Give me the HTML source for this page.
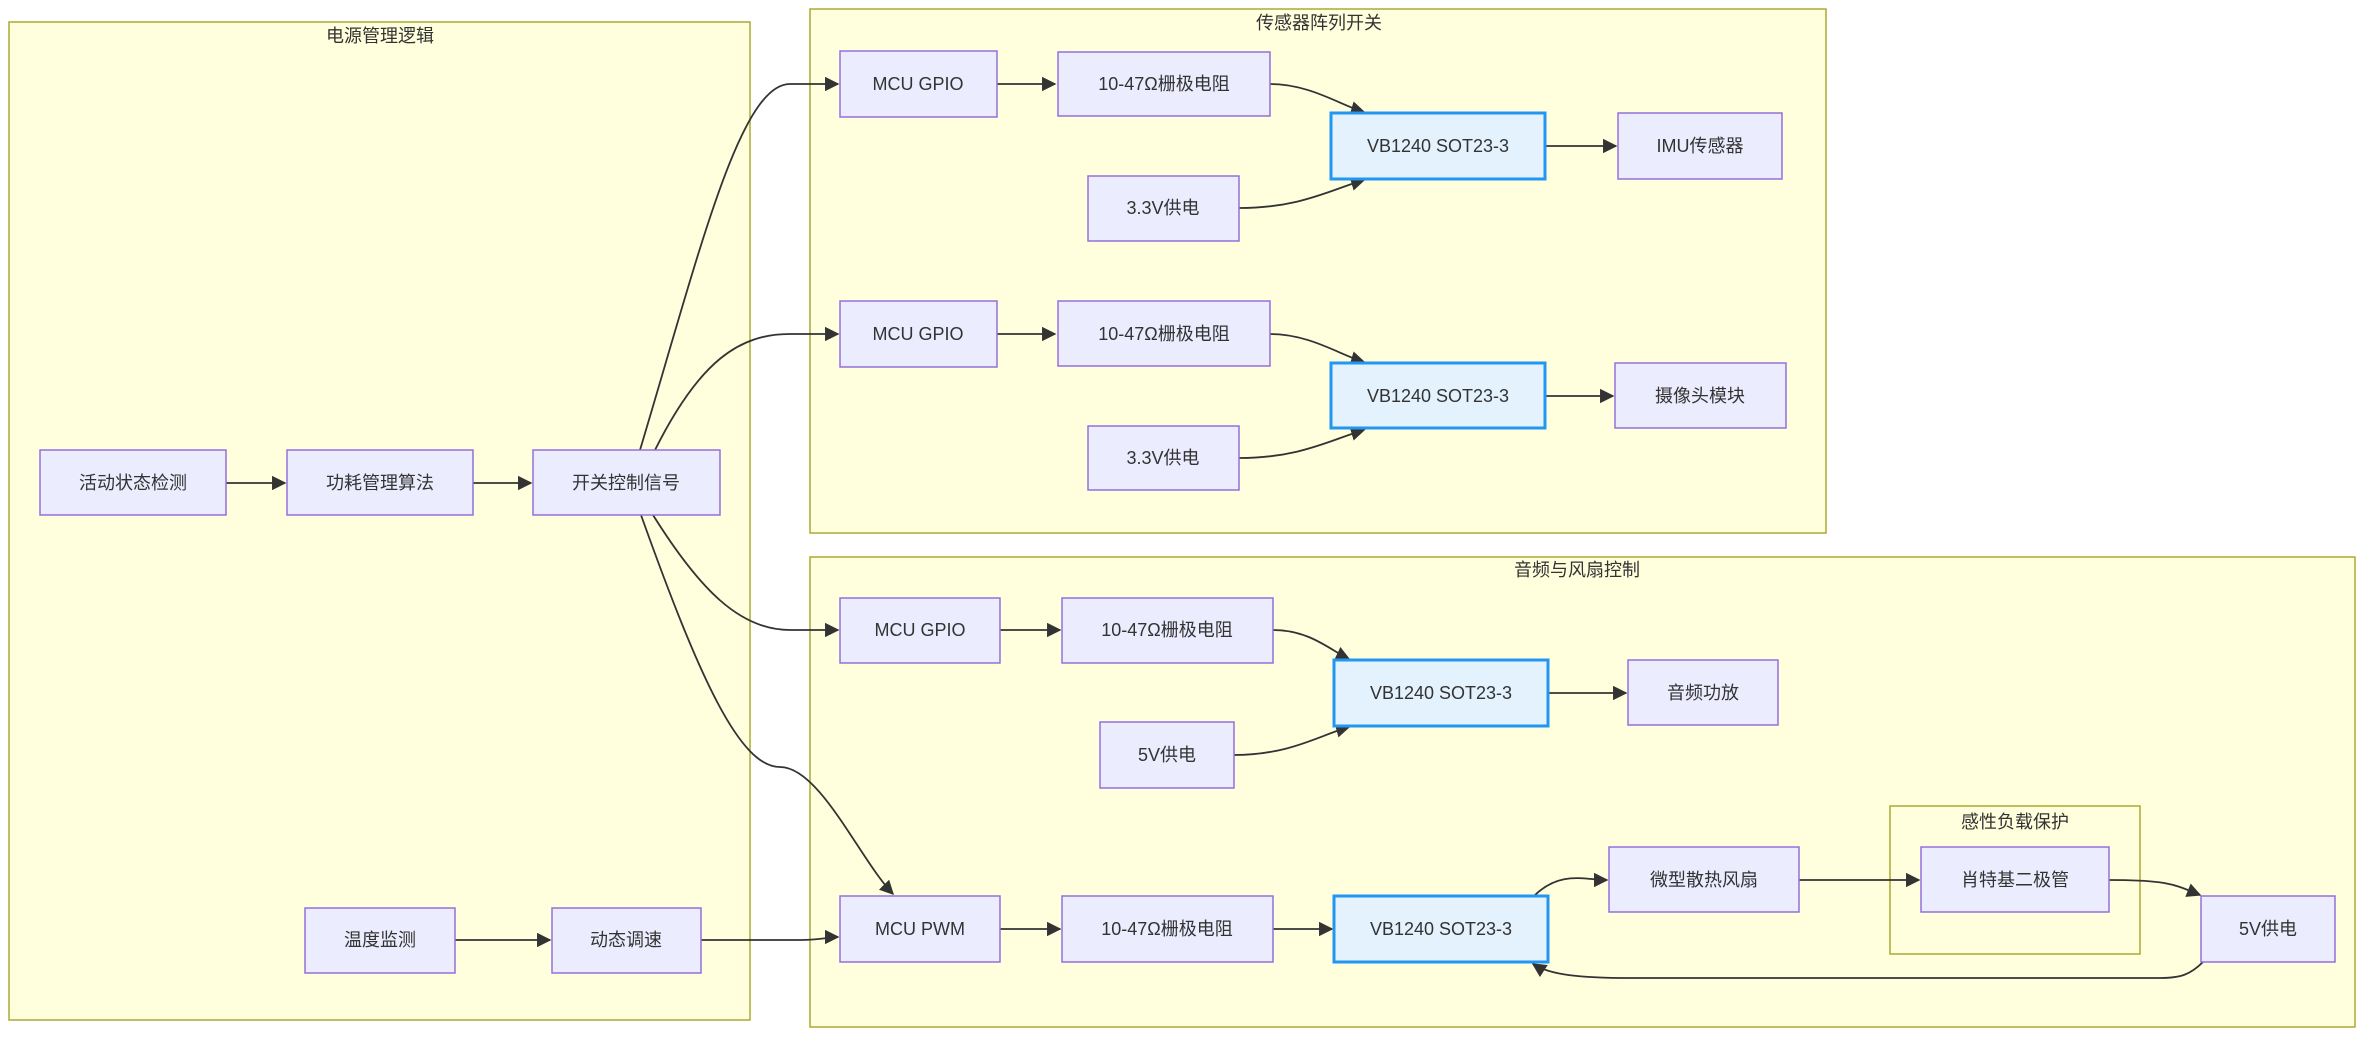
<!DOCTYPE html>
<html><head><meta charset="utf-8"><style>
html,body{margin:0;padding:0;background:#fff;}
svg{display:block;font-family:"Liberation Sans","Noto Sans CJK SC",sans-serif;}
.c{fill:#ffffde;stroke:#aaaa33;stroke-width:1.5;}
.n{fill:#ececff;stroke:#9370db;stroke-width:1.5;}
.v{fill:#e3f2fd;stroke:#2196f3;stroke-width:3;}
.e{fill:none;stroke:#333;stroke-width:1.8;}
text{font-size:18px;fill:#333;text-anchor:middle;dominant-baseline:central;}
</style></head><body>
<svg width="2368" height="1046" viewBox="0 0 2368 1046">
<defs><marker id="a" viewBox="0 0 10 10" refX="9" refY="5" markerWidth="8" markerHeight="8" orient="auto"><path d="M0,0L10,5L0,10z" fill="#333"/></marker></defs>
<rect class="c" x="9" y="22" width="741" height="998"/>
<text x="380" y="36">电源管理逻辑</text>
<rect class="c" x="810" y="9" width="1016" height="524"/>
<text x="1319" y="23">传感器阵列开关</text>
<rect class="c" x="810" y="557" width="1545" height="470"/>
<text x="1577" y="570">音频与风扇控制</text>
<rect class="c" x="1890" y="806" width="250" height="148"/>
<text x="2015" y="822">感性负载保护</text>

<g class="e">
<path class="e" d="M226,483H285" marker-end="url(#a)"/>
<path class="e" d="M473,483H531" marker-end="url(#a)"/>
<path class="e" d="M640,450C700,250 740,84 790,84H838" marker-end="url(#a)"/>
<path class="e" d="M655,450C700,360 740,334 790,334H838" marker-end="url(#a)"/>
<path class="e" d="M653,515C700,590 740,630 790,630H838" marker-end="url(#a)"/>
<path class="e" d="M641,515C700,680 740,767 780,767C820,767 860,860 893,894" marker-end="url(#a)"/>
<path class="e" d="M455,940H550" marker-end="url(#a)"/>
<path class="e" d="M701,940H800C820,940 830,937 838,937" marker-end="url(#a)"/>
<path class="e" d="M997,84H1055" marker-end="url(#a)"/>
<path class="e" d="M997,334H1055" marker-end="url(#a)"/>
<path class="e" d="M1000,630H1060" marker-end="url(#a)"/>
<path class="e" d="M1000,929H1060" marker-end="url(#a)"/>
<path class="e" d="M1270,84C1310,84 1340,105 1364,112" marker-end="url(#a)"/>
<path class="e" d="M1239,208C1300,208 1330,190 1364,180" marker-end="url(#a)"/>
<path class="e" d="M1270,334C1310,334 1340,355 1364,362" marker-end="url(#a)"/>
<path class="e" d="M1239,458C1300,458 1330,440 1364,430" marker-end="url(#a)"/>
<path class="e" d="M1273,630C1310,630 1330,650 1349,659" marker-end="url(#a)"/>
<path class="e" d="M1234,755C1290,755 1320,735 1349,727" marker-end="url(#a)"/>
<path class="e" d="M1545,146H1616" marker-end="url(#a)"/>
<path class="e" d="M1545,396H1613" marker-end="url(#a)"/>
<path class="e" d="M1548,693H1626" marker-end="url(#a)"/>
<path class="e" d="M1273,929H1332" marker-end="url(#a)"/>
<path class="e" d="M1534,896C1560,870 1585,880 1607,880" marker-end="url(#a)"/>
<path class="e" d="M1799,880H1919" marker-end="url(#a)"/>
<path class="e" d="M2109,880C2170,880 2175,885 2200,895" marker-end="url(#a)"/>
<path class="e" d="M2203,962C2190,975 2180,978 2160,978H1630C1580,978 1550,975 1533,964" marker-end="url(#a)"/>
</g>

<rect class="n" x="40" y="450" width="186" height="65"/><text x="133" y="483">活动状态检测</text>
<rect class="n" x="287" y="450" width="186" height="65"/><text x="380" y="483">功耗管理算法</text>
<rect class="n" x="533" y="450" width="187" height="65"/><text x="626" y="483">开关控制信号</text>
<rect class="n" x="305" y="908" width="150" height="65"/><text x="380" y="940">温度监测</text>
<rect class="n" x="552" y="908" width="149" height="65"/><text x="626" y="940">动态调速</text>

<rect class="n" x="840" y="51" width="157" height="66"/><text x="918" y="84">MCU GPIO</text>
<rect class="n" x="1058" y="52" width="212" height="64"/><text x="1164" y="84">10-47Ω栅极电阻</text>
<rect class="n" x="1088" y="176" width="151" height="65"/><text x="1163" y="208">3.3V供电</text>
<rect class="v" x="1331" y="113" width="214" height="66"/><text x="1438" y="146">VB1240 SOT23-3</text>
<rect class="n" x="1618" y="113" width="164" height="66"/><text x="1700" y="146">IMU传感器</text>

<rect class="n" x="840" y="301" width="157" height="66"/><text x="918" y="334">MCU GPIO</text>
<rect class="n" x="1058" y="301" width="212" height="65"/><text x="1164" y="334">10-47Ω栅极电阻</text>
<rect class="n" x="1088" y="426" width="151" height="64"/><text x="1163" y="458">3.3V供电</text>
<rect class="v" x="1331" y="363" width="214" height="65"/><text x="1438" y="396">VB1240 SOT23-3</text>
<rect class="n" x="1615" y="363" width="171" height="65"/><text x="1700" y="396">摄像头模块</text>

<rect class="n" x="840" y="598" width="160" height="65"/><text x="920" y="630">MCU GPIO</text>
<rect class="n" x="1062" y="598" width="211" height="65"/><text x="1167" y="630">10-47Ω栅极电阻</text>
<rect class="v" x="1334" y="660" width="214" height="66"/><text x="1441" y="693">VB1240 SOT23-3</text>
<rect class="n" x="1628" y="660" width="150" height="65"/><text x="1703" y="693">音频功放</text>
<rect class="n" x="1100" y="722" width="134" height="66"/><text x="1167" y="755">5V供电</text>

<rect class="n" x="840" y="896" width="160" height="66"/><text x="920" y="929">MCU PWM</text>
<rect class="n" x="1062" y="896" width="211" height="66"/><text x="1167" y="929">10-47Ω栅极电阻</text>
<rect class="v" x="1334" y="896" width="214" height="66"/><text x="1441" y="929">VB1240 SOT23-3</text>
<rect class="n" x="1609" y="847" width="190" height="65"/><text x="1704" y="880">微型散热风扇</text>
<rect class="n" x="1921" y="847" width="188" height="65"/><text x="2015" y="880">肖特基二极管</text>
<rect class="n" x="2201" y="896" width="134" height="66"/><text x="2268" y="929">5V供电</text>
</svg>
</body></html>
